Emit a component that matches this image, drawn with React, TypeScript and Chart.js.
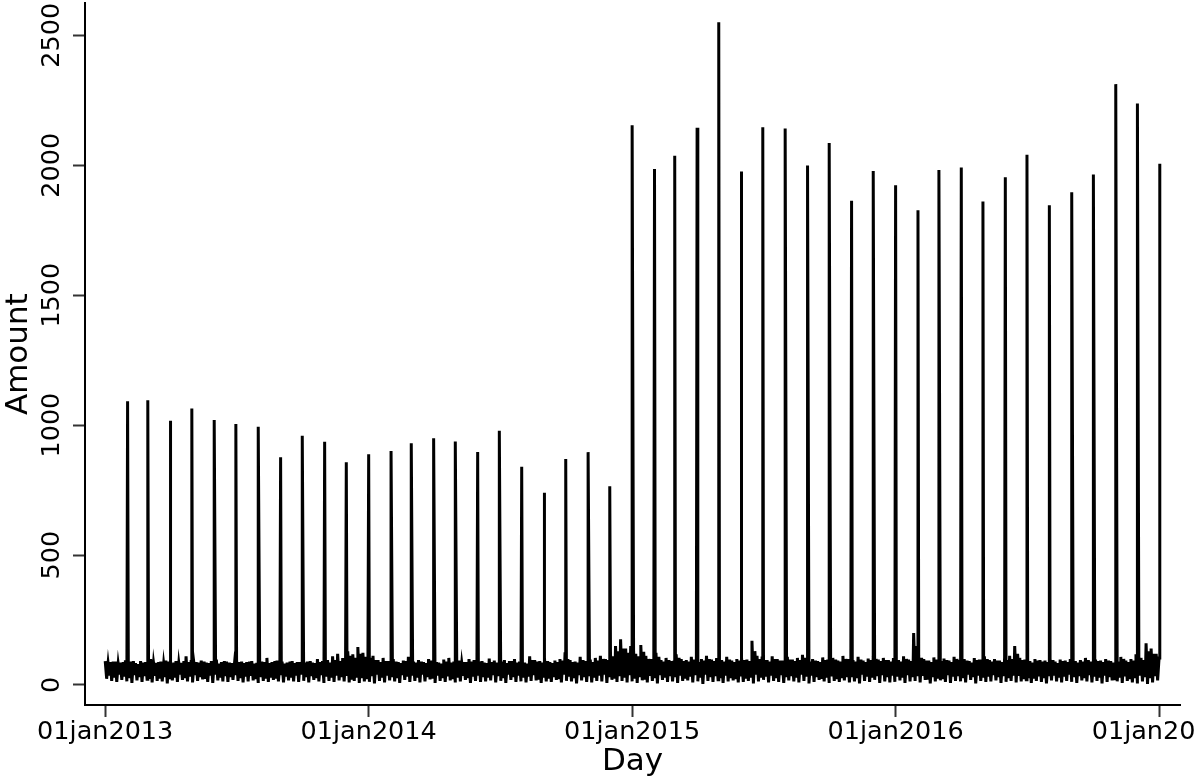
import React, { useEffect, useRef } from "react";
import { Chart, registerables } from "chart.js";

Chart.register(...registerables);

// ---- Axis ticks ----
const startDate = "2013-01-01";
const xTickDates = ["2013-01-01", "2014-01-01", "2015-01-01", "2016-01-01", "2017-01-01"];
const xTickLabels = ["01jan2013", "01jan2014", "01jan2015", "01jan2016", "01jan2017"];
const yTickValues = [0, 500, 1000, 1500, 2000, 2500];

// ---- Monthly spikes (first day of each month) ----
const spikeDates = [
  "2013-02-01", "2013-03-01", "2013-04-01", "2013-05-01", "2013-06-01", "2013-07-01",
  "2013-08-01", "2013-09-01", "2013-10-01", "2013-11-01", "2013-12-01",
  "2014-01-01", "2014-02-01", "2014-03-01", "2014-04-01", "2014-05-01", "2014-06-01",
  "2014-07-01", "2014-08-01", "2014-09-01", "2014-10-01", "2014-11-01", "2014-12-01",
  "2015-01-01", "2015-02-01", "2015-03-01", "2015-04-01", "2015-05-01", "2015-06-01",
  "2015-07-01", "2015-08-01", "2015-09-01", "2015-10-01", "2015-11-01", "2015-12-01",
  "2016-01-01", "2016-02-01", "2016-03-01", "2016-04-01", "2016-05-01", "2016-06-01",
  "2016-07-01", "2016-08-01", "2016-09-01", "2016-10-01", "2016-11-01", "2016-12-01",
  "2017-01-01",
];
const spikeValues = [
  1092, 1096, 1017, 1064, 1020, 1004, 994, 876, 959, 936, 857,
  888, 900, 930, 949, 937, 896, 978, 840, 740, 870, 896, 765,
  2154, 1985, 2036, 2144, 2550, 1976, 2146, 2141, 1999, 2085, 1863, 1978,
  1923, 1827, 1982, 1991, 1860, 1954, 2040, 1846, 1896, 1964, 2312, 2237,
  2006,
];

// ---- Baseline: per week, early-week high/low and late-week high/low (from 01jan2013) ----
const earlyHigh = [
  // 2013
  92, 88, 90, 86, 95, 90, 84, 92, 88, 100, 86, 90, 94, 88, 92, 85, 110, 90, 88, 94, 86, 92, 98, 88, 90, 84,
  96, 90, 88, 92, 86, 90, 104, 88, 94, 90, 86, 92, 88, 95, 90, 86, 100, 92, 96, 110, 120, 104, 130, 118, 146, 124,
  // 2014
  128, 112, 96, 104, 92, 100, 88, 94, 108, 90, 96, 88, 100, 92, 86, 98, 104, 90, 94, 88, 100, 96, 90, 86, 102, 94,
  88, 96, 92, 100, 90, 86, 110, 96, 92, 104, 88, 94, 100, 120, 96, 90, 108, 92, 98, 104, 112, 100, 120, 150, 176, 140,
  // 2015
  150, 120, 154, 112, 100, 124, 96, 104, 92, 118, 100, 96, 108, 94, 100, 112, 98, 104, 96, 108, 94, 100, 106, 98, 170, 112,
  104, 96, 110, 100, 94, 108, 98, 104, 116, 96, 100, 92, 106, 98, 104, 94, 112, 100, 96, 108, 94, 102, 110, 98, 104, 96,
  // 2016
  104, 96, 110, 98, 200, 112, 100, 94, 106, 98, 102, 94, 108, 96, 100, 92, 104, 98, 110, 96, 100, 94, 106, 112, 150, 104,
  98, 92, 100, 96, 94, 102, 90, 98, 94, 100, 92, 96, 104, 90, 98, 94, 100, 92, 96, 108, 94, 100, 118, 104, 160, 140, 120,
];
const earlyLow = [
  // 2013
  24, 16, 12, 20, 14, 8, 18, 12, 22, 10, 16, 14, 6, 18, 12, 20, 14, 10, 16, 22, 12, 8, 18, 14, 12, 20,
  16, 10, 14, 18, 8, 16, 12, 20, 14, 10, 18, 14, 12, 16, 10, 20, 14, 8, 16, 12, 18, 14, 10, 16, 8, 14,
  // 2014
  12, 6, 16, 10, 18, 14, 8, 20, 12, 16, 10, 14, 22, 8, 16, 12, 18, 10, 14, 20, 8, 16, 12, 14, 18, 10,
  16, 8, 20, 12, 14, 10, 16, 18, 8, 14, 12, 20, 10, 16, 14, 6, 18, 12, 10, 16, 14, 8, 20, 12, 16, 10,
  // 2015
  14, 8, 18, 10, 16, 6, 20, 12, 14, 8, 16, 18, 10, 14, 4, 16, 12, 20, 8, 14, 18, 10, 12, 16, 6, 14,
  20, 10, 16, 12, 8, 18, 14, 10, 16, 6, 12, 20, 14, 8, 16, 12, 18, 10, 14, 6, 16, 12, 20, 8, 14, 10,
  // 2016
  12, 18, 8, 14, 16, 10, 20, 6, 14, 18, 12, 8, 16, 14, 10, 20, 6, 16, 12, 14, 18, 8, 12, 16, 10, 14,
  20, 8, 16, 12, 6, 18, 14, 10, 16, 12, 8, 18, 14, 10, 16, 6, 12, 18, 14, 8, 16, 10, 6, 14, 4, 10, 18,
];
const lateHigh = [
  // 2013
  84, 90, 82, 88, 86, 92, 80, 86, 90, 84, 88, 82, 90, 86, 84, 92, 88, 82, 86, 90, 84, 88, 82, 92, 86, 80,
  88, 84, 90, 82, 86, 88, 84, 92, 86, 82, 90, 84, 88, 86, 92, 84, 88, 90, 86, 96, 92, 100, 112, 104, 120, 108,
  // 2014
  104, 96, 88, 92, 86, 90, 84, 92, 88, 86, 90, 84, 94, 88, 82, 90, 86, 92, 84, 88, 90, 86, 92, 84, 88, 86,
  90, 84, 92, 86, 88, 82, 96, 90, 86, 92, 84, 88, 94, 100, 88, 86, 96, 90, 88, 94, 100, 96, 110, 130, 140, 124,
  // 2015
  130, 110, 128, 100, 94, 108, 90, 96, 88, 104, 92, 90, 98, 88, 94, 100, 92, 96, 90, 98, 88, 94, 96, 92, 130, 100,
  96, 90, 100, 94, 88, 98, 92, 96, 104, 90, 94, 88, 96, 92, 98, 90, 100, 94, 90, 98, 88, 96, 100, 92, 96, 90,
  // 2016
  96, 90, 100, 92, 150, 104, 94, 88, 98, 92, 96, 88, 100, 90, 94, 86, 96, 92, 100, 90, 94, 88, 96, 100, 120, 96,
  92, 86, 94, 90, 88, 96, 84, 92, 88, 94, 86, 90, 96, 84, 92, 88, 94, 86, 90, 100, 88, 94, 106, 96, 130, 120, 104,
];
const lateLow = [
  // 2013
  36, 28, 40, 32, 26, 38, 30, 34, 24, 40, 30, 36, 28, 34, 40, 26, 32, 38, 30, 24, 36, 40, 28, 34, 30, 38,
  26, 32, 40, 28, 36, 30, 34, 24, 38, 32, 28, 36, 40, 30, 34, 26, 38, 32, 28, 36, 30, 40, 26, 34, 32, 28,
  // 2014
  34, 40, 28, 36, 30, 26, 38, 32, 36, 28, 40, 30, 24, 36, 32, 38, 28, 34, 40, 26, 32, 36, 30, 28, 38, 34,
  26, 40, 30, 36, 28, 32, 38, 26, 34, 30, 36, 28, 40, 32, 26, 38, 30, 34, 28, 36, 40, 30, 24, 34, 28, 38,
  // 2015
  30, 36, 26, 40, 32, 38, 28, 34, 30, 36, 24, 32, 38, 28, 40, 30, 34, 26, 36, 32, 28, 38, 30, 34, 40, 28,
  32, 36, 26, 38, 30, 34, 28, 40, 32, 36, 30, 24, 34, 38, 28, 32, 36, 30, 26, 40, 32, 28, 34, 38, 30, 36,
  // 2016
  32, 28, 38, 30, 34, 40, 26, 36, 30, 28, 38, 32, 34, 26, 40, 30, 36, 28, 32, 38, 30, 34, 26, 36, 40, 28,
  32, 30, 38, 26, 34, 36, 28, 32, 40, 30, 34, 26, 38, 32, 28, 36, 30, 24, 34, 38, 28, 32, 36, 30, 26, 34,
];

const FONT = "'DejaVu Sans', sans-serif";
const dayIndex = (iso: string) => Math.round((Date.parse(iso) - Date.parse(startDate)) / 86400000);
const xTickDays = xTickDates.map(dayIndex);

function buildPoints() {
  const pts: { x: number; y: number }[] = [];
  earlyHigh.forEach((v, k) => pts.push({ x: 7 * k, y: v }));
  earlyLow.forEach((v, k) => pts.push({ x: 7 * k + 2, y: v }));
  lateHigh.forEach((v, k) => pts.push({ x: 7 * k + 4, y: v }));
  lateLow.forEach((v, k) => pts.push({ x: 7 * k + 6, y: v }));
  spikeDates.forEach((d, i) => pts.push({ x: dayIndex(d), y: spikeValues[i] }));
  pts.sort((a, b) => a.x - b.x);
  return pts;
}

export default function App() {
  const canvasRef = useRef<HTMLCanvasElement | null>(null);

  useEffect(() => {
    if (!canvasRef.current) return;
    const chart = new Chart(canvasRef.current, {
      type: "line",
      data: {
        datasets: [
          {
            data: buildPoints(),
            borderColor: "#000",
            borderWidth: 3,
            pointRadius: 0,
            tension: 0,
            fill: false,
          },
        ],
      },
      options: {
        animation: false,
        responsive: true,
        maintainAspectRatio: false,
        layout: { padding: { left: 0, top: 3, right: 120, bottom: 0 } },
        plugins: { legend: { display: false }, tooltip: { enabled: false } },
        scales: {
          x: {
            type: "linear",
            min: -28,
            max: 1489,
            afterBuildTicks: (s: any) => {
              s.ticks = xTickDays.map((v) => ({ value: v }));
            },
            afterFit: (s: any) => {
              s.height = 76;
            },
            ticks: {
              autoSkip: false,
              maxRotation: 0,
              minRotation: 0,
              padding: 0,
              color: "#000",
              font: { family: FONT, size: 25.5 },
              callback: (v: any) => xTickLabels[xTickDays.indexOf(Number(v))] ?? "",
            },
            grid: {
              display: true,
              drawOnChartArea: false,
              drawTicks: true,
              tickLength: 12,
              tickWidth: 2,
              tickColor: "#333",
            },
            border: { display: true, color: "#000", width: 2 },
            title: {
              display: true,
              text: "Day",
              color: "#000",
              font: { family: FONT, size: 31 },
              padding: 0,
            },
          },
          y: {
            type: "linear",
            min: -77,
            max: 2623,
            afterBuildTicks: (s: any) => {
              s.ticks = yTickValues.map((v) => ({ value: v }));
            },
            afterFit: (s: any) => {
              s.width = 85;
            },
            ticks: {
              minRotation: 90,
              maxRotation: 90,
              crossAlign: "center",
              padding: -12,
              color: "#000",
              font: { family: FONT, size: 25.5 },
              callback: (v: any) => String(v),
            },
            grid: {
              display: true,
              drawOnChartArea: false,
              drawTicks: true,
              tickLength: 12,
              tickWidth: 2,
              tickColor: "#333",
            },
            border: { display: true, color: "#000", width: 2 },
            title: {
              display: true,
              text: "Amount",
              color: "#000",
              font: { family: FONT, size: 31 },
              padding: 0,
            },
          },
        },
      },
    } as any);
    return () => chart.destroy();
  }, []);

  return (
    <div
      style={{
        position: "fixed",
        left: 0,
        top: 0,
        width: 1197,
        height: 781,
        overflow: "hidden",
        background: "#fff",
      }}
    >
      <div style={{ position: "relative", width: 1300, height: 781 }}>
        <canvas ref={canvasRef} />
      </div>
    </div>
  );
}
